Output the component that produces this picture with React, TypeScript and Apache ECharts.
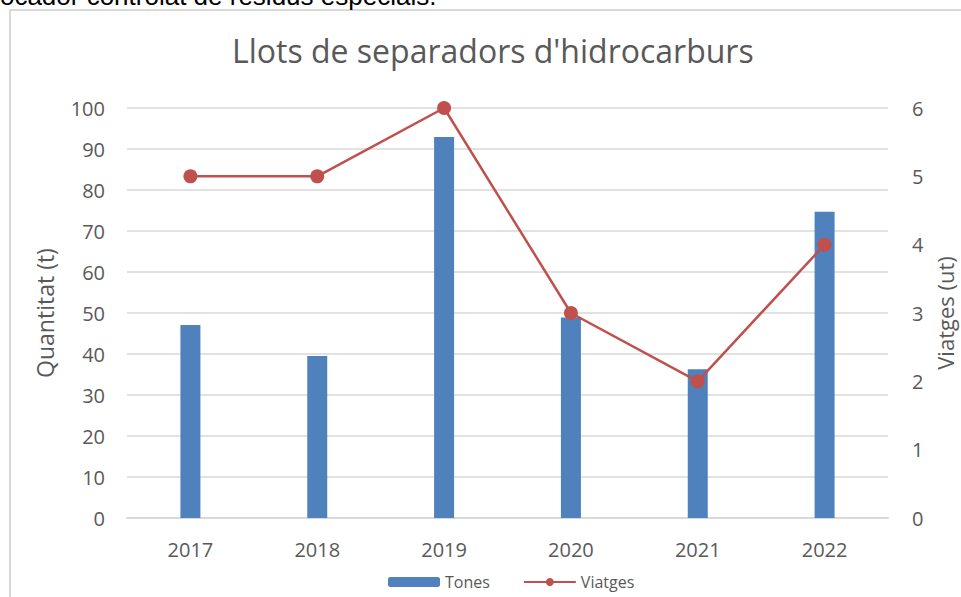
import React, { useEffect, useRef } from "react";
import * as echarts from "echarts";

const categories = ["2017", "2018", "2019", "2020", "2021", "2022"];
const tones = [47.1, 39.5, 92.9, 48.9, 36.3, 74.7];
const viatges = [5, 5, 6, 3, 2, 4];
const titleText = "Llots de separadors d'hidrocarburs";
const leftAxisName = "Quantitat (t)";
const rightAxisName = "Viatges (ut)";
const topCaption = "abocador controlat de residus especials.";

const FONT = "'Open Sans', 'Noto Sans', sans-serif";
const TXT = "#595959";
const GRID = "#D9D9D9";

export default function App() {
  const ref = useRef<HTMLDivElement>(null);
  useEffect(() => {
    if (!ref.current) return;
    const chart = echarts.init(ref.current, undefined, { renderer: "svg" });
    chart.setOption({
      animation: false,
      backgroundColor: "#ffffff",
      title: {
        text: titleText,
        left: 232,
        top: 34,
        padding: 0,
        textStyle: { fontFamily: FONT, fontSize: 32, fontWeight: "normal", color: TXT },
      },
      graphic: [
        {
          type: "rect",
          shape: { x: 10, y: 10, width: 990, height: 620 },
          style: { fill: "none", stroke: GRID, lineWidth: 2 },
          silent: true,
        },
        {
          type: "text",
          x: -29,
          y: -17,
          style: {
            text: topCaption,
            font: "26px 'Liberation Sans', Arial, sans-serif",
            fill: "#000000",
            verticalAlign: "top",
          },
          silent: true,
        },
      ],
      legend: {
        left: 383,
        top: 569,
        itemWidth: 52,
        itemHeight: 10,
        itemGap: 33,
        textStyle: { fontFamily: FONT, fontSize: 16, color: TXT },
        data: ["Tones", "Viatges"],
      },
      grid: {
        left: 127,
        right: 73,
        top: 108,
        bottom: 79,
        containLabel: false,
        outerBoundsMode: "none",
      },
      xAxis: {
        type: "category",
        data: categories,
        axisTick: { show: false },
        axisLine: { lineStyle: { color: GRID, width: 2 } },
        axisLabel: { fontFamily: FONT, fontSize: 20, color: TXT, margin: 21 },
      },
      yAxis: [
        {
          type: "value",
          min: 0,
          max: 100,
          interval: 10,
          name: leftAxisName,
          nameLocation: "middle",
          nameRotate: 90,
          nameGap: 71,
          nameTextStyle: { fontFamily: FONT, fontSize: 23, color: TXT },
          axisLine: { show: false },
          axisTick: { show: false },
          splitLine: { lineStyle: { color: GRID, width: 1.5 } },
          axisLabel: { fontFamily: FONT, fontSize: 20, color: TXT, margin: 22 },
        },
        {
          type: "value",
          min: 0,
          max: 6,
          interval: 1,
          name: rightAxisName,
          nameLocation: "middle",
          nameRotate: 90,
          nameGap: 45,
          nameTextStyle: { fontFamily: FONT, fontSize: 22, color: TXT },
          axisLine: { show: false },
          axisTick: { show: false },
          splitLine: { show: false },
          axisLabel: { fontFamily: FONT, fontSize: 20, color: TXT, margin: 24 },
        },
      ],
      series: [
        {
          name: "Tones",
          type: "bar",
          yAxisIndex: 0,
          data: tones,
          barWidth: 20,
          itemStyle: { color: "#4F81BD" },
        },
        {
          name: "Viatges",
          type: "line",
          yAxisIndex: 1,
          data: viatges,
          symbol: "circle",
          symbolSize: 14,
          lineStyle: { color: "#C0504D", width: 2.5 },
          itemStyle: { color: "#C0504D" },
        },
      ],
    });
    return () => chart.dispose();
  }, []);
  return (
    <div
      ref={ref}
      style={{ position: "fixed", left: 0, top: 0, width: 961, height: 597, background: "#fff" }}
    />
  );
}
